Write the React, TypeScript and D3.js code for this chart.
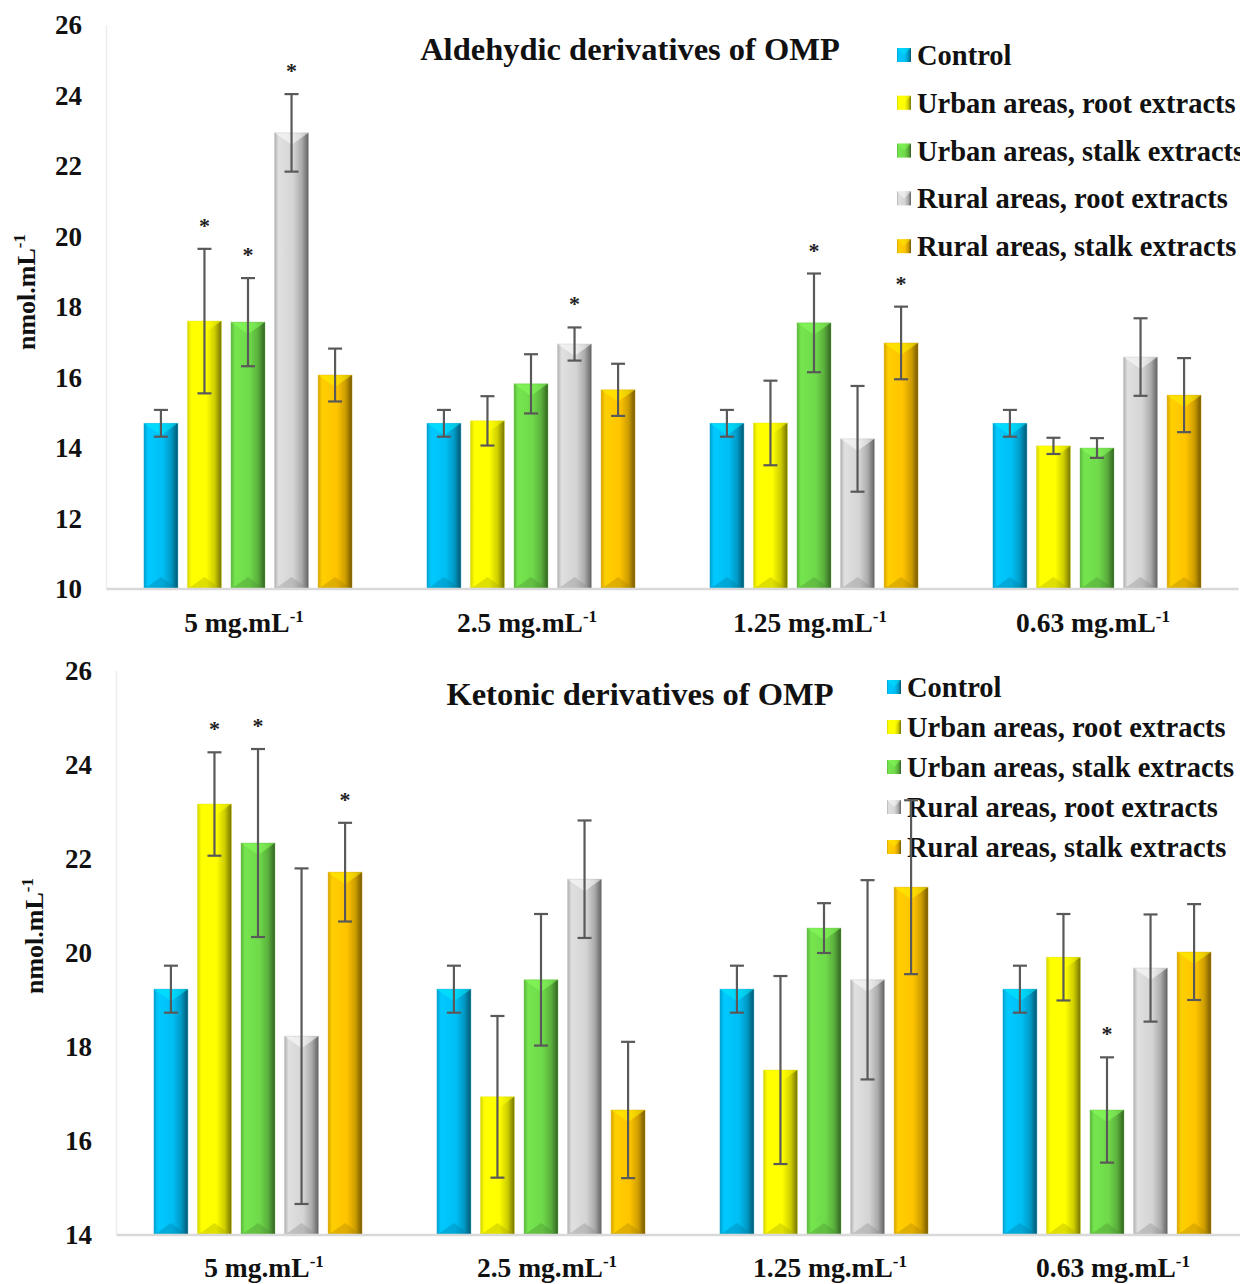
import React from "react";
import * as d3 from "d3";

const groups = ["5 mg.mL", "2.5 mg.mL", "1.25 mg.mL", "0.63 mg.mL"];
const series = [
  "Control",
  "Urban areas, root extracts",
  "Urban areas, stalk extracts",
  "Rural areas, root extracts",
  "Rural areas, stalk extracts",
];
const seriesColors = ["#00BFF5", "#FFFF00", "#6FD94A", "#D4D4D4", "#FFC400"];

// Aldehydic derivatives: values[series][group]
const aldMeans = [
  [14.7, 14.7, 14.7, 14.7],
  [17.6, 14.77, 14.71, 14.06],
  [17.57, 15.82, 17.55, 14.0],
  [22.94, 16.95, 14.26, 16.58],
  [16.07, 15.65, 16.98, 15.5],
];
const aldErr = [
  [0.38, 0.38, 0.38, 0.38],
  [2.05, 0.7, 1.2, 0.23],
  [1.25, 0.84, 1.4, 0.28],
  [1.1, 0.47, 1.5, 1.1],
  [0.75, 0.74, 1.03, 1.05],
];
const aldStars = [
  [false, false, false, false],
  [true, false, false, false],
  [true, false, true, false],
  [true, true, false, false],
  [false, false, true, false],
];
const aldTicks = [10, 12, 14, 16, 18, 20, 22, 24, 26];

// Ketonic derivatives
const ketMeans = [
  [19.23, 19.23, 19.23, 19.23],
  [23.17, 16.94, 17.51, 19.91],
  [22.34, 19.43, 20.53, 16.66],
  [18.23, 21.57, 19.43, 19.68],
  [21.72, 16.66, 21.4, 20.02],
];
const ketErr = [
  [0.5, 0.5, 0.5, 0.5],
  [1.1, 1.72, 2.0, 0.92],
  [2.0, 1.4, 0.53, 1.12],
  [3.57, 1.25, 2.12, 1.14],
  [1.05, 1.45, 1.85, 1.02],
];
const ketStars = [
  [false, false, false, false],
  [true, false, false, false],
  [true, false, false, true],
  [false, false, false, false],
  [true, false, false, false],
];
const ketTicks = [14, 16, 18, 20, 22, 24, 26];

const FONT = "'Liberation Serif', 'Times New Roman', serif";

type PanelProps = {
  title: string;
  means: number[][];
  errs: number[][];
  stars: boolean[][];
  ticks: number[];
  yDomain: [number, number];
  yRange: [number, number];
  xRange: [number, number];
  tickX: number;
  yLabelX: number;
  yLabelY: number;
  titleX: number;
  titleY: number;
  legX: number;
  legY: number;
  legStep: number;
  xLabelY: number;
  xLabelDx: number;
  uid: string;
};

function Bar({ x, y, w, y0, color, gid }: any) {
  const h = y0 - y;
  const bev = Math.min(12, h / 2);
  const c = d3.color(color)!;
  const light = c.brighter(0.6).formatHex();
  const dark = c.darker(1.2).formatHex();
  return (
    <g>
      <rect x={x} y={y} width={w} height={h} fill={`url(#${gid})`} />
      <polygon
        points={`${x},${y} ${x + w},${y} ${x + w / 2},${y + bev}`}
        fill={light}
        opacity={0.55}
      />
      <polygon
        points={`${x},${y0} ${x + w},${y0} ${x + w / 2},${y0 - bev}`}
        fill={dark}
        opacity={0.35}
      />
      <rect x={x} y={y} width={w} height={h} fill="none" stroke={c.darker(0.4).formatHex()} strokeOpacity={0.35} strokeWidth={1} />
    </g>
  );
}

function Panel(p: PanelProps) {
  const y = d3.scaleLinear().domain(p.yDomain).range(p.yRange);
  const x0 = d3.scaleBand().domain(groups).range(p.xRange).paddingInner(0).paddingOuter(0);
  const x1 = d3
    .scaleBand()
    .domain(series)
    .range([0, x0.bandwidth()])
    .paddingInner(0.22)
    .paddingOuter(0.86);
  const bw = x1.bandwidth();
  const yBase = y(p.yDomain[0]);
  return (
    <g>
      <defs>
        {seriesColors.map((col, i) => {
          const c = d3.color(col)!;
          return (
            <linearGradient key={i} id={`${p.uid}-g${i}`} x1="0" x2="1" y1="0" y2="0">
              <stop offset="0%" stopColor={c.darker(0.5).formatHex()} />
              <stop offset="12%" stopColor={c.brighter(0.15).formatHex()} />
              <stop offset="55%" stopColor={col} />
              <stop offset="80%" stopColor={c.darker(0.6).formatHex()} />
              <stop offset="100%" stopColor={c.darker(2.2).formatHex()} />
            </linearGradient>
          );
        })}
      </defs>
      {/* axes */}
      <line x1={p.xRange[0]} x2={p.xRange[0]} y1={p.yRange[1]} y2={yBase} stroke="#EDEDED" strokeWidth={1.5} />
      {p.ticks.map((t) => (
        <text
          key={t}
          x={p.tickX}
          y={y(t)}
          dy="0.35em"
          textAnchor="end"
          fontFamily={FONT}
          fontWeight="bold"
          fontSize={27}
          fill="#111"
        >
          {t}
        </text>
      ))}
      <text
        transform={`translate(${p.yLabelX},${p.yLabelY}) rotate(-90)`}
        textAnchor="middle"
        fontFamily={FONT}
        fontWeight="bold"
        fontSize={26}
        fill="#111"
      >
        nmol.mL<tspan dy="-10" fontSize={17}>-1</tspan>
      </text>
      <text x={p.titleX} y={p.titleY} textAnchor="middle" fontFamily={FONT} fontWeight="bold" fontSize={32.5} fill="#111">
        {p.title}
      </text>
      {/* legend */}
      {series.map((s, i) => (
        <g key={s} transform={`translate(${p.legX},${p.legY + i * p.legStep})`}>
          <rect x={0} y={-7} width={14} height={14} fill={`url(#${p.uid}-g${i})`} />
          <polygon points={`0,-7 14,-7 7,0`} fill={d3.color(seriesColors[i])!.brighter(0.5).formatHex()} opacity={0.5} />
          <text x={20} y={0} dy="0.35em" fontFamily={FONT} fontWeight="bold" fontSize={28.5} fill="#111">
            {s}
          </text>
        </g>
      ))}
      {/* bars */}
      {groups.map((g, gi) =>
        series.map((s, si) => {
          const bx = x0(g)! + x1(s)!;
          return (
            <Bar
              key={`${g}-${s}`}
              x={bx}
              y={y(p.means[si][gi])}
              w={bw}
              y0={yBase}
              color={seriesColors[si]}
              gid={`${p.uid}-g${si}`}
            />
          );
        })
      )}
      <line x1={p.xRange[0]} x2={p.xRange[1]} y1={yBase} y2={yBase} stroke="#D9D9D9" strokeWidth={2.5} />
      {/* error bars */}
      {groups.map((g, gi) =>
        series.map((s, si) => {
          const cx = x0(g)! + x1(s)! + bw / 2;
          const m = p.means[si][gi];
          const e = p.errs[si][gi];
          const top = y(m + e);
          const bot = y(m - e);
          return (
            <g key={`e-${g}-${s}`} stroke="#595959" strokeWidth={2.2}>
              <line x1={cx} x2={cx} y1={top} y2={bot} />
              <line x1={cx - 7} x2={cx + 7} y1={top} y2={top} />
              <line x1={cx - 7} x2={cx + 7} y1={bot} y2={bot} />
              {p.stars[si][gi] && (
                <text
                  x={cx}
                  y={top - 16}
                  textAnchor="middle"
                  fontFamily={FONT}
                  fontWeight="bold"
                  fontSize={22}
                  fill="#222"
                  stroke="none"
                >
                  *
                </text>
              )}
            </g>
          );
        })
      )}
      {/* x labels */}
      {groups.map((g) => (
        <text
          key={g}
          x={x0(g)! + x0.bandwidth() / 2 + p.xLabelDx}
          y={p.xLabelY}
          textAnchor="middle"
          fontFamily={FONT}
          fontWeight="bold"
          fontSize={27.5}
          fill="#111"
        >
          {g}
          <tspan dy="-10" fontSize={17}>-1</tspan>
        </text>
      ))}
    </g>
  );
}

export default function App() {
  return (
    <svg
      width={1240}
      height={1284}
      style={{ position: "absolute", left: 0, top: 0, background: "#fff" }}
    >
      <rect width={1240} height={1284} fill="#fff" />
      <Panel
        uid="ald"
        title="Aldehydic derivatives of OMP"
        means={aldMeans}
        errs={aldErr}
        stars={aldStars}
        ticks={aldTicks}
        yDomain={[10, 26]}
        yRange={[589, 25]}
        xRange={[106.5, 1238.5]}
        tickX={82}
        yLabelX={35}
        yLabelY={292}
        titleX={630}
        titleY={60}
        legX={897}
        legY={55}
        legStep={47.8}
        xLabelY={632}
        xLabelDx={-4}
      />
      <Panel
        uid="ket"
        title="Ketonic derivatives of OMP"
        means={ketMeans}
        errs={ketErr}
        stars={ketStars}
        ticks={ketTicks}
        yDomain={[14, 26]}
        yRange={[1235, 671]}
        xRange={[116.5, 1248.5]}
        tickX={92}
        yLabelX={43}
        yLabelY={936}
        titleX={640}
        titleY={705}
        legX={887}
        legY={687}
        legStep={40}
        xLabelY={1277}
        xLabelDx={6}
      />
    </svg>
  );
}
